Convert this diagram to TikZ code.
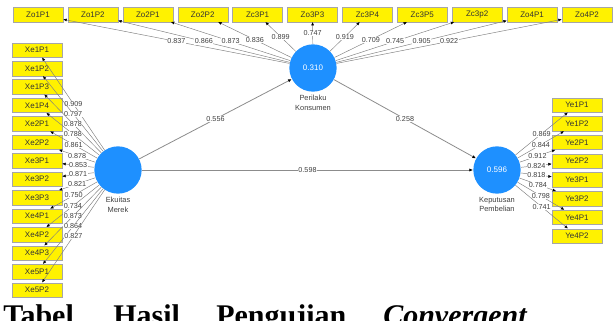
\documentclass[tikz,border=0pt]{standalone}
\usepackage{fontspec}
\setmainfont{Liberation Serif}
\setsansfont{Liberation Sans}
\usetikzlibrary{positioning, arrows.meta}
\definecolor{plsblue}{RGB}{30,144,255}

\begin{document}
\begin{tikzpicture}[
			x = 0.75pt,
			y = -0.75pt,
			indicator/.style = {rectangle, draw = black!35, line width = 0.3pt, fill = yellow, minimum width = 37.5pt, minimum height = 10.9pt, inner sep = 0pt, font = \sffamily\fontsize{6}{7}\selectfont, text = black!80},
			construct/.style = {circle, fill = plsblue, minimum size = 35.5pt, inner sep = 0pt, font = \sffamily\fontsize{6}{7}\selectfont, text = white},
			conlabel/.style = {align = center, inner sep = 0pt, font = \sffamily\fontsize{5.6}{7.4}\selectfont, text = black!75},
			indpath/.style = {draw = black!50, line width = 0.35pt, -{Latex[length = 2.6pt, width = 2.2pt, black]}},
			strpath/.style = {draw = black!45, line width = 0.6pt, -{Latex[length = 2.8pt, width = 2.4pt, black]}},
			loading/.style = {midway, fill = white, inner sep = 0.4pt, font = \sffamily\fontsize{5.4}{6}\selectfont, text = black!75},
			captionword/.style = {anchor = base west, inner sep = 0pt, font = \bfseries\fontsize{22.5}{27}\selectfont}
		]
		\useasboundingbox (0,0) rectangle (615,321);
		\clip (0,0) rectangle (615,321);
		\node[construct] (ek) at (118,170) {};
		\node[construct] (pk) at (313,68) {0.310};
		\node[construct] (kp) at (497,170) {0.596};
		\node[conlabel, below = 2pt of ek] (eklabel) {Ekuitas\\Merek};
		\node[conlabel, below = 2pt of pk] (pklabel) {Perilaku\\Konsumen};
		\node[conlabel, below = 2pt of kp] (kplabel) {Keputusan\\Pembelian};
		\node[indicator] (zo1p1) at (38,14.5) {Zo1P1};
		\node[indicator] (zo1p2) at (92.9,14.5) {Zo1P2};
		\node[indicator] (zo2p1) at (147.8,14.5) {Zo2P1};
		\node[indicator] (zo2p2) at (202.7,14.5) {Zo2P2};
		\node[indicator] (zc3p1) at (257.6,14.5) {Zc3P1};
		\node[indicator] (zo3p3) at (312.5,14.5) {Zo3P3};
		\node[indicator] (zc3p4) at (367.4,14.5) {Zc3P4};
		\node[indicator] (zc3p5) at (422.3,14.5) {Zc3P5};
		\node[indicator] (zc3p2) at (477.2,14.5) {Zc3p2};
		\node[indicator] (zo4p1) at (532.1,14.5) {Zo4P1};
		\node[indicator] (zo4p2) at (587,14.5) {Zo4P2};
		\node[indicator] (xe1p1) at (37,50) {Xe1P1};
		\node[indicator] (xe1p2) at (37,68.5) {Xe1P2};
		\node[indicator] (xe1p3) at (37,86.9) {Xe1P3};
		\node[indicator] (xe1p4) at (37,105.4) {Xe1P4};
		\node[indicator] (xe2p1) at (37,123.8) {Xe2P1};
		\node[indicator] (xe2p2) at (37,142.3) {Xe2P2};
		\node[indicator] (xe3p1) at (37,160.8) {Xe3P1};
		\node[indicator] (xe3p2) at (37,179.2) {Xe3P2};
		\node[indicator] (xe3p3) at (37,197.7) {Xe3P3};
		\node[indicator] (xe4p1) at (37,216.2) {Xe4P1};
		\node[indicator] (xe4p2) at (37,234.6) {Xe4P2};
		\node[indicator] (xe4p3) at (37,253.1) {Xe4P3};
		\node[indicator] (xe5p1) at (37,271.5) {Xe5P1};
		\node[indicator] (xe5p2) at (37,290) {Xe5P2};
		\node[indicator] (ye1p1) at (577,105) {Ye1P1};
		\node[indicator] (ye1p2) at (577,123.7) {Ye1P2};
		\node[indicator] (ye2p1) at (577,142.4) {Ye2P1};
		\node[indicator] (ye2p2) at (577,161.1) {Ye2P2};
		\node[indicator] (ye3p1) at (577,179.9) {Ye3P1};
		\node[indicator] (ye3p2) at (577,198.6) {Ye3P2};
		\node[indicator] (ye4p1) at (577,217.3) {Ye4P1};
		\node[indicator] (ye4p2) at (577,236) {Ye4P2};
		\draw[indpath] (pk) -- (zo1p1) node[loading] {0.837};
		\draw[indpath] (pk) -- (zo1p2) node[loading] {0.866};
		\draw[indpath] (pk) -- (zo2p1) node[loading] {0.873};
		\draw[indpath] (pk) -- (zo2p2) node[loading] {0.836};
		\draw[indpath] (pk) -- (zc3p1) node[loading] {0.899};
		\draw[indpath] (pk) -- (zo3p3) node[loading] {0.747};
		\draw[indpath] (pk) -- (zc3p4) node[loading] {0.919};
		\draw[indpath] (pk) -- (zc3p5) node[loading] {0.709};
		\draw[indpath] (pk) -- (zc3p2) node[loading] {0.745};
		\draw[indpath] (pk) -- (zo4p1) node[loading] {0.905};
		\draw[indpath] (pk) -- (zo4p2) node[loading] {0.922};
		\draw[indpath] (ek) -- (xe1p1) node[loading] {0.909};
		\draw[indpath] (ek) -- (xe1p2) node[loading] {0.797};
		\draw[indpath] (ek) -- (xe1p3) node[loading] {0.878};
		\draw[indpath] (ek) -- (xe1p4) node[loading] {0.788};
		\draw[indpath] (ek) -- (xe2p1) node[loading] {0.861};
		\draw[indpath] (ek) -- (xe2p2) node[loading] {0.878};
		\draw[indpath] (ek) -- (xe3p1) node[loading] {0.853};
		\draw[indpath] (ek) -- (xe3p2) node[loading] {0.871};
		\draw[indpath] (ek) -- (xe3p3) node[loading] {0.821};
		\draw[indpath] (ek) -- (xe4p1) node[loading] {0.750};
		\draw[indpath] (ek) -- (xe4p2) node[loading] {0.734};
		\draw[indpath] (ek) -- (xe4p3) node[loading] {0.873};
		\draw[indpath] (ek) -- (xe5p1) node[loading] {0.864};
		\draw[indpath] (ek) -- (xe5p2) node[loading] {0.827};
		\draw[indpath] (kp) -- (ye1p1) node[loading] {0.869};
		\draw[indpath] (kp) -- (ye1p2) node[loading] {0.844};
		\draw[indpath] (kp) -- (ye2p1) node[loading] {0.912};
		\draw[indpath] (kp) -- (ye2p2) node[loading] {0.824};
		\draw[indpath] (kp) -- (ye3p1) node[loading] {0.818};
		\draw[indpath] (kp) -- (ye3p2) node[loading] {0.784};
		\draw[indpath] (kp) -- (ye4p1) node[loading] {0.798};
		\draw[indpath] (kp) -- (ye4p2) node[loading] {0.741};
		\draw[strpath] (ek) -- (pk) node[loading] {0.556};
		\draw[strpath] (pk) -- (kp) node[loading] {0.258};
		\draw[strpath] (ek) -- (kp) node[loading] {0.598};
		\node[captionword] (tabel) at (3,325.5) {Tabel};
		\node[captionword] (hasil) at (113,325.5) {Hasil};
		\node[captionword] (pengujian) at (216,325.5) {Pengujian};
		\node[captionword] (convergent) at (383,325.5) {\textit{Convergent}};
	\end{tikzpicture}
\end{document}
